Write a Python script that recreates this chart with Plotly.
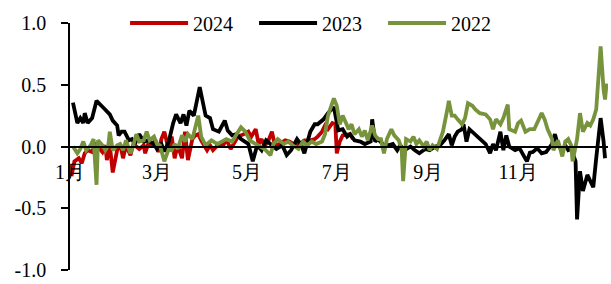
import plotly.graph_objects as go

# ---- data (day of year, value) ----
days_2024 = [1, 3, 6, 8, 10, 12, 15, 17, 19, 22, 24, 25, 27, 29, 32, 34, 36, 38, 41, 43,
             45, 47, 50, 51, 53, 55, 58, 60, 62, 64, 67, 69, 71, 73, 76, 78, 80, 83, 85, 87,
             89, 93, 95, 97, 101, 104, 106, 109, 111, 114, 118, 121, 123, 126, 128, 130, 132, 135, 137, 139,
             142, 146, 149, 153, 156, 159, 163, 166, 168, 171, 173, 175, 178, 180, 181, 183, 185, 190, 192]
vals_2024 = [-0.24, -0.12, -0.095, -0.135, -0.055, -0.03, -0.045, 0.02, 0.00, -0.045, 0.01, -0.11, 0.01, -0.21, -0.03, 0.02, -0.095, 0.01, -0.07, 0.02,
             0.00, -0.02, 0.01, -0.055, 0.02, 0.01, 0.05, -0.045, 0.06, 0.12, -0.03, 0.08, -0.095, 0.01, -0.095, 0.12, -0.11, 0.06, 0.09, 0.10,
             0.05, -0.03, 0.01, -0.03, 0.02, 0.01, 0.06, -0.02, 0.02, 0.08, 0.10, 0.12, 0.08, 0.14, 0.02, 0.06, 0.00, 0.06, 0.12, 0.01,
             0.02, 0.05, 0.04, 0.01, 0.02, 0.05, 0.05, 0.06, 0.08, 0.12, 0.17, 0.14, 0.19, 0.18, -0.055, 0.04, 0.09, 0.10, 0.06]

days_2023 = [2, 5, 7, 9, 10, 12, 15, 18, 23, 27, 29, 32, 33, 35, 37, 40, 42, 44, 47, 50,
             53, 57, 59, 62, 64, 67, 70, 72, 75, 77, 79, 81, 84, 87, 88, 92, 95, 97, 101, 105,
             107, 110, 113, 116, 121, 124, 127, 130, 133, 137, 140, 144, 147, 150, 154, 157, 159, 163, 166, 168,
             172, 175, 179, 182, 185, 188, 190, 193, 197, 200, 204, 205, 207, 209, 213, 216, 219, 222, 224, 227,
             231, 234, 237, 241, 244, 248, 251, 254, 257, 259, 261, 263, 266, 267, 269, 271, 275, 278, 282, 285,
             287, 289, 292, 294, 296, 298, 302, 305, 308, 310, 312, 314, 317, 320, 323, 327, 329, 331, 334, 336,
             338, 340, 343, 344, 346, 348, 351, 353, 355, 357, 360, 362, 363]
vals_2023 = [0.355, 0.19, 0.23, 0.19, 0.27, 0.19, 0.23, 0.37, 0.31, 0.26, 0.21, 0.17, 0.09, 0.12, 0.12, 0.05, 0.06, 0.02, 0.10, 0.04,
             0.05, 0.02, -0.02, 0.02, -0.04, 0.04, 0.19, 0.26, 0.19, 0.26, 0.17, 0.29, 0.25, 0.43, 0.48, 0.25, 0.23, 0.14, 0.12, 0.21,
             0.13, 0.09, 0.10, 0.06, 0.02, -0.12, 0.01, -0.03, 0.05, 0.01, -0.02, 0.01, -0.07, -0.03, 0.06, 0.01, -0.055, 0.12, 0.18, 0.18,
             0.22, 0.27, 0.32, 0.13, 0.14, 0.08, 0.10, 0.05, 0.04, 0.02, 0.04, 0.22, 0.04, 0.06, 0.01, 0.01, 0.02, -0.03, 0.01, -0.03,
             0.00, -0.03, -0.055, -0.02, -0.03, 0.00, 0.01, 0.05, 0.10, 0.01, 0.08, 0.12, 0.14, 0.18, 0.04, 0.14, 0.10, 0.06, 0.02, -0.055,
             0.02, -0.03, 0.12, -0.03, 0.09, 0.00, -0.03, -0.015, -0.07, -0.12, -0.05, -0.045, -0.015, -0.055, -0.045, 0.02, 0.10, 0.01, -0.03, 0.01,
             -0.03, -0.02, -0.12, -0.59, -0.20, -0.36, -0.23, -0.28, -0.33, -0.095, 0.23, 0.04, -0.095]

days_2022 = [2, 5, 7, 9, 11, 14, 16, 18, 19, 22, 24, 26, 27, 29, 32, 34, 36, 38, 41, 43,
             45, 47, 50, 52, 54, 57, 59, 61, 64, 67, 69, 71, 73, 76, 78, 80, 83, 85, 87, 89,
             92, 96, 100, 103, 106, 110, 113, 116, 119, 122, 126, 129, 132, 136, 138, 141, 145, 148, 151, 155,
             158, 161, 164, 167, 171, 173, 175, 179, 181, 183, 185, 188, 189, 191, 193, 196, 198, 200, 202, 205,
             207, 209, 211, 213, 215, 218, 220, 223, 225, 226, 228, 231, 233, 235, 237, 240, 242, 244, 246, 249,
             251, 253, 256, 257, 259, 261, 263, 266, 268, 270, 273, 275, 278, 282, 285, 287, 289, 292, 294, 297,
             298, 302, 304, 306, 309, 312, 315, 318, 320, 322, 324, 327, 328, 331, 334, 336, 338, 340, 341, 344,
             346, 348, 351, 353, 355, 357, 358, 360, 362, 363, 364]
vals_2022 = [0.00, -0.055, -0.02, 0.04, -0.03, 0.01, 0.06, -0.31, 0.05, 0.01, -0.03, 0.01, 0.12, -0.03, 0.01, 0.02, -0.03, 0.05, -0.055, 0.01,
             0.10, 0.04, 0.05, 0.12, 0.05, 0.08, 0.02, 0.01, -0.12, -0.02, -0.03, 0.02, -0.02, 0.09, 0.04, 0.10, 0.06, 0.17, 0.25, 0.08,
             0.01, 0.05, 0.02, 0.04, 0.06, 0.04, 0.10, 0.155, 0.12, 0.05, 0.02, 0.00, -0.02, -0.07, 0.02, 0.06, 0.02, 0.04, 0.01, -0.02,
             0.04, 0.01, 0.04, 0.02, 0.04, 0.10, 0.25, 0.39, 0.33, 0.18, 0.25, 0.17, 0.14, 0.18, 0.10, 0.14, 0.08, 0.13, 0.05, 0.17,
             0.09, 0.06, 0.06, -0.055, 0.06, 0.14, 0.09, 0.05, -0.02, -0.28, 0.06, 0.04, 0.08, 0.02, 0.05, 0.00, 0.04, -0.03, 0.01, -0.02,
             0.05, 0.12, 0.30, 0.37, 0.25, 0.25, 0.22, 0.18, 0.23, 0.35, 0.33, 0.30, 0.27, 0.26, 0.22, 0.14, 0.22, 0.18, 0.23, 0.34,
             0.14, 0.12, 0.19, 0.21, 0.12, 0.14, 0.14, 0.21, 0.27, 0.22, 0.14, 0.06, -0.03, 0.05, -0.08, 0.04, 0.06, 0.01, -0.12, 0.06,
             0.27, 0.12, 0.19, 0.17, 0.22, 0.30, 0.46, 0.81, 0.46, 0.38, 0.51]

month_start_days = [0, 59, 120, 181, 243, 304]
month_labels = ["1月", "3月", "5月", "7月", "9月", "11月"]
y_ticks = [-1.0, -0.5, 0.0, 0.5, 1.0]
y_labels = ["-1.0", "-0.5", "0.0", "0.5", "1.0"]

series = [
    ("2024", days_2024, vals_2024, "#C00000"),
    ("2023", days_2023, vals_2023, "#000000"),
    ("2022", days_2022, vals_2022, "#77933C"),
]

FONT = "Liberation Serif, Times New Roman, serif"

fig = go.Figure()
for name, xs, ys, color in series:
    fig.add_trace(go.Scatter(x=xs, y=ys, name=name, mode="lines",
                             line=dict(color=color, width=3.8)))

fig.update_layout(
    width=611, height=284,
    margin=dict(l=70, r=3, t=22, b=9, pad=0),
    paper_bgcolor="white", plot_bgcolor="white",
    font=dict(family=FONT, size=20, color="black"),
    legend=dict(orientation="h", x=0.462, xanchor="center", y=1.0, yanchor="middle",
                bgcolor="rgba(0,0,0,0)", font=dict(family=FONT, size=20),
                itemwidth=58, entrywidth=56, traceorder="normal"),
    xaxis=dict(range=[0, 365], tickvals=month_start_days, ticktext=month_labels,
               showline=True, linecolor="black", linewidth=1.5,
               anchor="free", position=0.5, showgrid=False, zeroline=False,
               ticks="outside", ticklen=8, tickcolor="rgba(0,0,0,0)",
               ticklabeloverflow="allow",
               tickfont=dict(family=FONT, size=20)),
    yaxis=dict(range=[-1, 1], tickvals=y_ticks, ticktext=y_labels,
               showline=True, linecolor="black", linewidth=1.5,
               ticks="outside", ticklen=7, tickcolor="black", tickwidth=1.5,
               showgrid=False, zeroline=False, ticklabelstandoff=11,
               ticklabeloverflow="allow",
               tickfont=dict(family=FONT, size=20)),
)

fig.write_html("out.html", config={"displayModeBar": False},
               post_script="document.body.style.margin='0';document.body.style.overflow='hidden';")
